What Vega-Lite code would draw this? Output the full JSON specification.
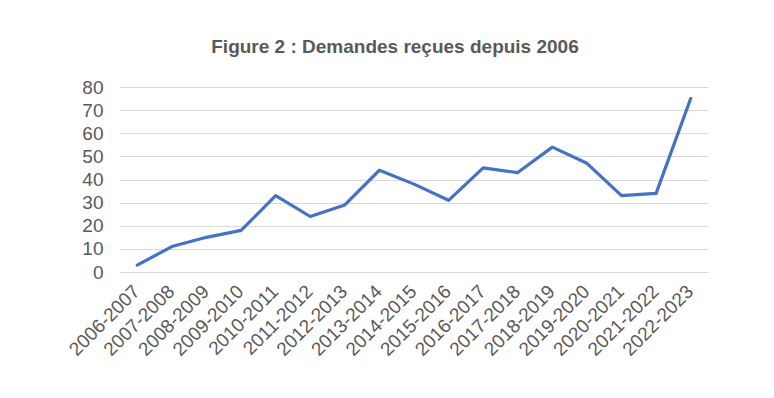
{
  "$schema": "https://vega.github.io/schema/vega-lite/v6.json",
  "width": 588,
  "height": 185,
  "autosize": "none",
  "padding": {"left": 120, "top": 87, "right": 66, "bottom": 126},
  "background": "white",
  "title": {
    "text": "Figure 2 : Demandes reçues depuis 2006",
    "font": "Liberation Sans",
    "fontSize": 19,
    "fontWeight": "bold",
    "color": "#595959",
    "anchor": "middle",
    "dx": -19,
    "offset": 21
  },
  "config": {
    "view": {"stroke": null},
    "font": "Liberation Sans"
  },
  "data": {
    "values": [
      {"periode": "2006-2007", "demandes": 3},
      {"periode": "2007-2008", "demandes": 11},
      {"periode": "2008-2009", "demandes": 15},
      {"periode": "2009-2010", "demandes": 18},
      {"periode": "2010-2011", "demandes": 33},
      {"periode": "2011-2012", "demandes": 24},
      {"periode": "2012-2013", "demandes": 29},
      {"periode": "2013-2014", "demandes": 44},
      {"periode": "2014-2015", "demandes": 38},
      {"periode": "2015-2016", "demandes": 31},
      {"periode": "2016-2017", "demandes": 45},
      {"periode": "2017-2018", "demandes": 43},
      {"periode": "2018-2019", "demandes": 54},
      {"periode": "2019-2020", "demandes": 47},
      {"periode": "2020-2021", "demandes": 33},
      {"periode": "2021-2022", "demandes": 34},
      {"periode": "2022-2023", "demandes": 75}
    ]
  },
  "mark": {"type": "line", "color": "#4472C4", "strokeWidth": 3.2, "strokeCap": "round", "strokeJoin": "round"},
  "encoding": {
    "x": {
      "field": "periode",
      "type": "ordinal",
      "sort": null,
      "scale": {"paddingOuter": 0.5, "paddingInner": 0},
      "axis": {
        "title": null,
        "labelAngle": -45,
        "labelAlign": "right",
        "labelBaseline": "middle",
        "labelFontSize": 19,
        "labelColor": "#595959",
        "labelPadding": 16,
        "labelOffset": -1,
        "ticks": false,
        "domainColor": "#D9D9D9",
        "domainWidth": 1,
        "grid": false
      }
    },
    "y": {
      "field": "demandes",
      "type": "quantitative",
      "scale": {"domain": [0, 80], "nice": false},
      "axis": {
        "title": null,
        "values": [0, 10, 20, 30, 40, 50, 60, 70, 80],
        "labelFontSize": 19,
        "labelColor": "#595959",
        "labelPadding": 17,
        "ticks": false,
        "domain": false,
        "gridColor": "#D9D9D9",
        "gridWidth": 1
      }
    }
  }
}
